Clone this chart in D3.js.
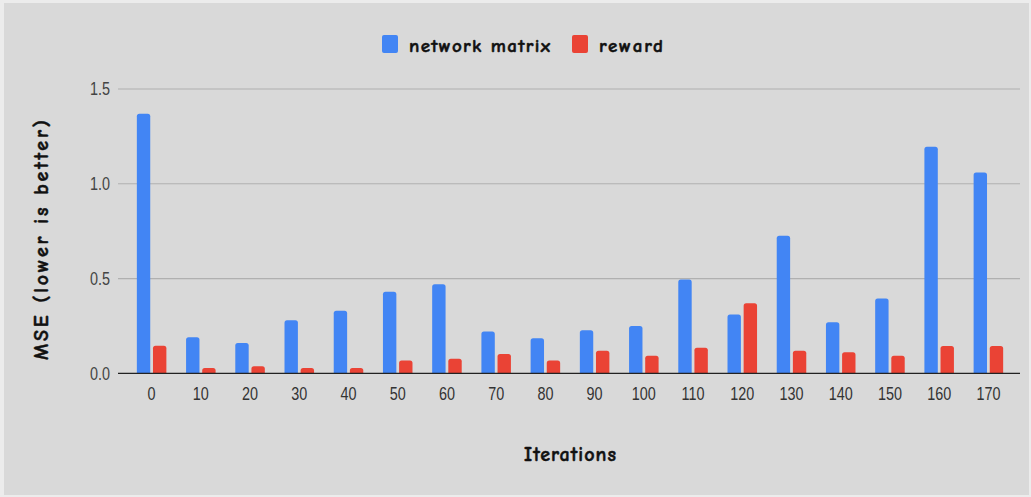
<!DOCTYPE html>
<html>
<head>
<meta charset="utf-8">
<script src="https://cdn.jsdelivr.net/npm/d3@7"></script>
<style>
  html, body { margin: 0; padding: 0; background: #ececec; }
  svg { display: block; }
  .tick text { font-family: "Liberation Sans", Arial, sans-serif; }
</style>
</head>
<body>
<svg id="chart" width="1031" height="497"></svg>
<script>
// Iterations on the x axis
const iterations = ["0", "10", "20", "30", "40", "50", "60", "70", "80", "90",
                    "100", "110", "120", "130", "140", "150", "160", "170"];
// MSE per iteration for each series
const networkMatrix = [1.37, 0.19, 0.16, 0.28, 0.33, 0.43, 0.47, 0.22, 0.185, 0.227,
                       0.25, 0.495, 0.31, 0.726, 0.27, 0.395, 1.195, 1.06];
const reward = [0.145, 0.028, 0.037, 0.028, 0.028, 0.068, 0.077, 0.102, 0.068, 0.119,
                0.093, 0.135, 0.369, 0.119, 0.111, 0.093, 0.144, 0.144];
const seriesNames = ["network matrix", "reward"];
const yTicks = [0, 0.5, 1.0, 1.5];

const colors = { "network matrix": "#4285f4", "reward": "#ea4335" };
const titleFont = "'Comic Neue', 'Comic Sans MS', 'DejaVu Sans', sans-serif";

const svg = d3.select("#chart");

// chart area background
svg.append("rect")
  .attr("x", 4).attr("y", 3).attr("width", 1025).attr("height", 492)
  .attr("fill", "#d9d9d9");

const plot = { left: 118, right: 1020, top: 89, bottom: 373.3 };

const x0 = d3.scaleBand()
  .domain(iterations)
  .range([127, 1013])
  .paddingInner(0.4)
  .paddingOuter(0.2);

const x1 = d3.scaleBand()
  .domain(seriesNames)
  .range([0, x0.bandwidth()])
  .paddingInner(0.17);

const y = d3.scaleLinear()
  .domain([0, 1.5])
  .range([plot.bottom, plot.top]);

// horizontal gridlines
svg.append("g")
  .selectAll("line")
  .data(yTicks.filter(d => d > 0))
  .join("line")
  .attr("x1", plot.left).attr("x2", plot.right)
  .attr("y1", d => y(d)).attr("y2", d => y(d))
  .attr("stroke", "#b0b0b0").attr("stroke-width", 1.2);

// condensed tick labels
const narrow = 0.8;

// y axis labels
const yAxis = d3.axisLeft(y)
  .tickValues(yTicks)
  .tickFormat(d3.format(".1f"))
  .tickSize(0)
  .tickPadding(0);
const gy = svg.append("g")
  .attr("transform", `translate(${plot.left},0)`)
  .call(yAxis);
gy.select(".domain").remove();
gy.selectAll("text")
  .attr("x", -8 / narrow)
  .attr("transform", `scale(${narrow},1)`)
  .attr("font-size", 18).attr("fill", "#444");

// bars with slightly rounded tops
function barPath(xp, w, yTop, yBase, r) {
  const h = yBase - yTop;
  const rr = Math.min(r, h / 2, w / 2);
  return `M${xp},${yBase} V${yTop + rr} Q${xp},${yTop} ${xp + rr},${yTop} H${xp + w - rr} Q${xp + w},${yTop} ${xp + w},${yTop + rr} V${yBase} Z`;
}

const rows = iterations.map((it, i) => ({
  it,
  values: [
    { key: "network matrix", value: networkMatrix[i] },
    { key: "reward", value: reward[i] }
  ]
}));

svg.append("g")
  .selectAll("g")
  .data(rows)
  .join("g")
  .attr("transform", d => `translate(${x0(d.it)},0)`)
  .selectAll("path")
  .data(d => d.values)
  .join("path")
  .attr("d", d => barPath(x1(d.key), x1.bandwidth(), y(d.value), y(0), 2.5))
  .attr("fill", d => colors[d.key]);

// baseline
svg.append("line")
  .attr("x1", plot.left).attr("x2", plot.right)
  .attr("y1", y(0)).attr("y2", y(0))
  .attr("stroke", "#222").attr("stroke-width", 1.3);

// x axis labels
const xAxis = d3.axisBottom(x0).tickSize(0);
const gx = svg.append("g")
  .attr("transform", `translate(0,${y(0)})`)
  .call(xAxis);
gx.select(".domain").remove();
gx.selectAll("text")
  .attr("dy", null)
  .attr("y", 26.7)
  .attr("transform", `scale(${narrow},1)`)
  .attr("font-size", 18).attr("fill", "#333");

// axis titles
function titleText(sel) {
  return sel
    .attr("font-family", titleFont)
    .attr("font-weight", "bold")
    .attr("fill", "#111")
    .attr("stroke", "#111")
    .attr("stroke-width", 0.5)
    .attr("lengthAdjust", "spacing");
}

svg.append("text")
  .attr("x", 570).attr("y", 461)
  .attr("text-anchor", "middle")
  .attr("font-size", 20)
  .attr("textLength", 92)
  .call(titleText)
  .text("Iterations");

svg.append("text")
  .attr("transform", "translate(48,240) rotate(-90)")
  .attr("text-anchor", "middle")
  .attr("font-size", 20)
  .attr("textLength", 240)
  .call(titleText)
  .text("MSE (lower is better)");

// legend
const legendItems = [
  { key: "network matrix", sx: 382, tx: 409, w: 141 },
  { key: "reward", sx: 572, tx: 599, w: 64 }
];
const lg = svg.append("g");
lg.selectAll("rect")
  .data(legendItems)
  .join("rect")
  .attr("x", d => d.sx).attr("y", 35)
  .attr("width", 16).attr("height", 18)
  .attr("rx", 2)
  .attr("fill", d => colors[d.key]);
lg.selectAll("text")
  .data(legendItems)
  .join("text")
  .attr("x", d => d.tx).attr("y", 52)
  .attr("font-size", 19)
  .attr("textLength", d => d.w)
  .call(titleText)
  .text(d => d.key);
</script>
</body>
</html>
